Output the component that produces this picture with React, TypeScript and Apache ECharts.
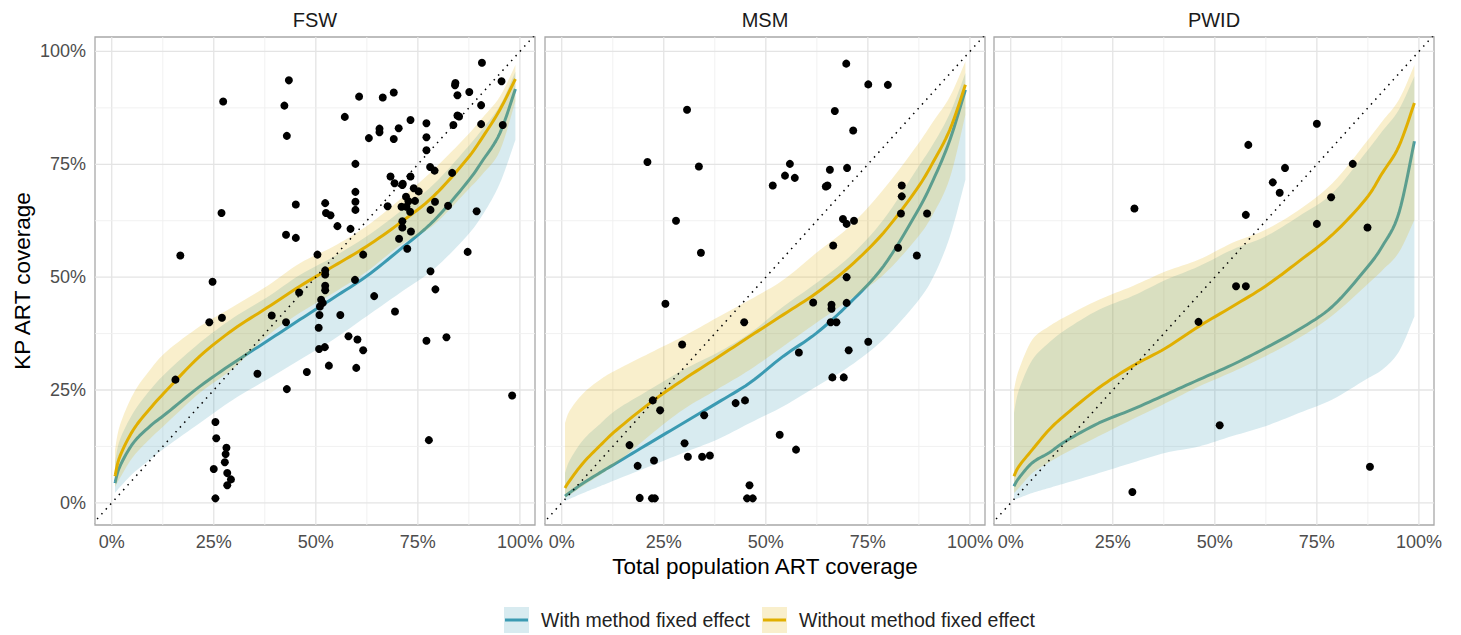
import React, { useEffect, useRef } from 'react';
import * as echarts from 'echarts';

// ---------- data ----------
const panelNames = ['FSW', 'MSM', 'PWID'];
const tickValues = [0, 25, 50, 75, 100];
const minorValues = [12.5, 37.5, 62.5, 87.5];
const curveX = [0.8, 2, 5.3, 9.4, 13.5, 21.6, 29.8, 38, 46.1, 54.3, 62.4, 70.6, 78.8, 86.9, 91, 95.1, 98.9];

const fswWithMid = [4.4, 8.1, 13.3, 17.0, 19.9, 25.8, 31.0, 35.8, 40.6, 45.4, 50.2, 56.1, 62.4, 70.8, 76.0, 81.9, 91.7];
const fswWithLo = [2.2, 3.5, 6.6, 9.6, 12.5, 17.7, 22.9, 27.3, 31.7, 36.2, 41.3, 46.5, 51.7, 59.0, 64.0, 70.8, 80.4];
const fswWithHi = [9.0, 14.0, 20.0, 25.0, 29.0, 35.5, 41.0, 45.5, 50.5, 54.5, 59.0, 64.5, 70.5, 78.5, 83.0, 88.0, 95.5];
const fswWithoutMid = [5.9, 10.3, 16.2, 20.9, 25.0, 32.5, 38.4, 43.2, 48.0, 52.4, 56.8, 62.0, 67.9, 76.0, 81.2, 87.1, 93.9];
const fswWithoutLo = [3.5, 5.5, 10.3, 14.2, 17.7, 24.4, 29.8, 36.9, 42.1, 46.5, 51.2, 57.0, 61.5, 69.0, 73.0, 78.0, 89.0];
const fswWithoutHi = [11.8, 17.2, 24.2, 29.5, 33.6, 39.1, 43.5, 48.0, 53.1, 56.8, 61.3, 67.2, 73.8, 81.2, 85.5, 90.0, 97.0];

const msmWithMid = [1.5, 2.3, 4.4, 6.7, 8.9, 13.3, 17.7, 22.1, 26.6, 32.5, 37.6, 44.3, 52.4, 64.2, 71.5, 80.4, 91.5];
const msmWithLo = [0.4, 0.9, 2.2, 3.7, 5.2, 8.1, 11.1, 14.0, 17.7, 21.4, 25.8, 30.3, 36.2, 44.3, 50.0, 59.0, 71.6];
const msmWithHi = [6.6, 9.5, 14.0, 17.5, 20.7, 25.1, 29.5, 33.2, 37.6, 43.5, 48.7, 54.6, 62.7, 73.8, 79.5, 86.3, 95.2];
const msmWithoutMid = [3.3, 5.0, 8.9, 12.7, 16.2, 22.1, 27.3, 32.1, 36.9, 41.7, 46.5, 52.4, 59.8, 69.4, 75.5, 82.7, 92.6];
const msmWithoutLo = [1.1, 1.8, 3.8, 6.2, 8.8, 15.0, 20.7, 25.1, 29.5, 34.7, 39.9, 45.0, 50.5, 58.5, 64.0, 72.0, 86.0];
const msmWithoutHi = [17.7, 20.5, 24.3, 27.3, 29.5, 33.2, 36.9, 41.0, 45.0, 49.4, 55.4, 61.3, 69.4, 79.0, 84.5, 90.0, 97.8];

const pwidWithMid = [3.7, 5.5, 8.9, 11.1, 13.7, 17.7, 20.7, 24.0, 27.3, 30.6, 34.3, 38.4, 43.5, 51.7, 56.8, 64.2, 80.1];
const pwidWithLo = [0.7, 1.1, 2.2, 3.3, 4.4, 6.6, 8.9, 11.1, 12.5, 14.8, 17.0, 19.9, 22.9, 27.3, 29.5, 33.5, 41.3];
const pwidWithHi = [19.9, 25.0, 31.7, 35.5, 38.4, 42.8, 45.8, 49.4, 52.4, 56.1, 59.0, 63.5, 68.6, 77.5, 82.3, 87.1, 94.5];
const pwidWithoutMid = [5.9, 8.1, 11.8, 16.2, 19.6, 25.5, 30.3, 34.3, 39.1, 43.5, 48.0, 53.5, 59.4, 67.2, 73.0, 79.0, 88.6];
const pwidWithoutLo = [2.2, 3.3, 6.6, 9.0, 11.1, 14.8, 18.5, 22.1, 25.8, 29.0, 32.5, 36.5, 41.5, 48.0, 51.5, 55.5, 62.7];
const pwidWithoutHi = [25.1, 29.5, 36.2, 39.1, 41.3, 45.0, 48.0, 51.3, 53.9, 57.6, 60.5, 64.9, 70.8, 79.7, 84.5, 89.3, 97.0];

const fswPoints = [
  [90.7, 97.5], [43.4, 93.6], [84.2, 93.0], [84.1, 92.5], [95.5, 93.4], [27.3, 88.9], [42.3, 88.0], [60.6, 90.0],
  [66.4, 89.8], [69.1, 90.9], [84.7, 90.3], [87.6, 91.0], [90.5, 88.1], [57.1, 85.5], [42.9, 81.3], [84.7, 85.8],
  [85.1, 85.6], [83.7, 83.7], [90.5, 83.9], [95.8, 83.7], [73.2, 84.8], [77.1, 84.1], [65.6, 82.9], [65.6, 82.1],
  [70.3, 83.0], [63.0, 80.8], [69.1, 80.6], [77.1, 81.0], [77.1, 78.1], [59.7, 75.1], [78.0, 74.4], [79.1, 73.6],
  [83.4, 73.1], [68.3, 72.3], [69.3, 70.8], [71.3, 70.7], [73.2, 72.3], [71.2, 70.4], [74.0, 69.7], [75.2, 69.0],
  [59.7, 68.9], [59.7, 66.7], [59.7, 64.9], [45.1, 66.1], [52.3, 66.4], [52.5, 64.2], [53.6, 63.7], [67.6, 65.7],
  [72.1, 67.8], [72.7, 66.8], [74.3, 66.9], [71.0, 65.6], [72.2, 65.6], [73.1, 64.5], [79.2, 66.7], [78.1, 64.9],
  [82.4, 65.8], [89.4, 64.6], [26.9, 64.2], [71.2, 62.4], [71.2, 61.0], [73.3, 60.1], [55.3, 61.3], [58.5, 60.7],
  [42.7, 59.4], [45.1, 58.7], [70.4, 58.5], [72.4, 56.3], [87.2, 55.6], [16.8, 54.8], [50.4, 55.0], [61.6, 55.0],
  [78.1, 51.3], [52.3, 51.5], [52.3, 50.6], [52.3, 48.1], [52.3, 47.1], [59.6, 49.4], [24.7, 49.0], [79.3, 47.3],
  [64.3, 45.8], [45.9, 46.6], [51.3, 45.0], [51.7, 44.3], [51.0, 43.5], [50.9, 41.6], [56.0, 41.6], [69.4, 42.4],
  [39.2, 41.5], [42.7, 40.0], [23.9, 40.0], [27.0, 41.0], [50.7, 38.8], [58.0, 36.9], [60.2, 36.2], [61.6, 33.8],
  [77.1, 35.9], [82.0, 36.7], [50.8, 34.1], [52.2, 34.5], [53.2, 30.4], [59.9, 29.9], [47.8, 29.0], [35.7, 28.6],
  [15.6, 27.3], [42.9, 25.2], [98.1, 23.8], [25.4, 17.9], [25.6, 14.3], [77.7, 13.9], [28.1, 12.2], [27.9, 10.8],
  [27.7, 9.0], [25.0, 7.5], [28.3, 6.6], [29.2, 5.2], [28.3, 3.9], [25.4, 1.0],
];

const msmPoints = [
  [69.7, 97.3], [75.1, 92.7], [79.9, 92.6], [30.7, 87.1], [66.9, 86.8], [71.4, 82.5], [21.0, 75.5], [33.6, 74.5],
  [55.9, 75.1], [54.7, 72.5], [57.1, 72.0], [51.7, 70.3], [65.7, 73.8], [69.9, 74.2], [64.7, 70.1], [65.1, 70.3],
  [83.3, 70.3], [83.3, 67.9], [28.0, 62.5], [68.9, 62.9], [69.8, 61.8], [71.6, 62.5], [83.1, 64.1], [89.5, 64.1],
  [34.1, 55.4], [66.5, 57.0], [82.4, 56.5], [87.0, 54.8], [69.8, 50.0], [25.4, 44.1], [61.6, 44.4], [66.1, 43.9],
  [66.1, 43.0], [69.8, 44.3], [44.7, 40.0], [65.9, 40.0], [67.3, 40.0], [29.5, 35.1], [75.1, 35.7], [58.1, 33.3],
  [70.3, 33.8], [66.3, 27.8], [69.1, 27.8], [22.3, 22.7], [24.1, 20.5], [34.9, 19.4], [42.6, 22.1], [44.9, 22.7],
  [53.4, 15.1], [57.4, 11.8], [16.6, 12.8], [30.1, 13.2], [18.6, 8.2], [22.6, 9.4], [30.9, 10.2], [34.4, 10.2],
  [36.3, 10.5], [19.1, 1.1], [22.1, 1.0], [22.8, 1.0], [46.0, 3.9], [45.4, 1.0], [46.8, 1.0],
];

const pwidPoints = [
  [75.0, 84.0], [58.2, 79.3], [67.2, 74.2], [83.8, 75.1], [64.2, 71.0], [65.9, 68.7], [78.5, 67.7], [30.3, 65.2],
  [57.6, 63.8], [75.0, 61.8], [87.4, 61.0], [55.2, 48.0], [57.6, 48.0], [46.0, 40.1], [51.2, 17.2], [88.0, 8.0],
  [29.8, 2.4],
];

const legendLabels = ['With method fixed effect', 'Without method fixed effect'];

// ---------- layout / style ----------
const X_MIN = -4.1;
const X_MAX = 103.7;
const Y_MIN = -4.9;
const Y_MAX = 103.2;
const GRID_LEFTS = [95, 545, 994];
const GRID_TOP = 37;
const GRID_W = 440;
const GRID_H = 488;
const FONT = 'Liberation Sans, Arial, sans-serif';
const BLUE = '#3B9AB2';
const YELLOW = '#E1AF00';
const BLUE_FILL = 'rgba(59,154,178,0.2)';
const YELLOW_FILL = 'rgba(225,175,0,0.2)';

const panelData = [
  { points: fswPoints, wMid: fswWithMid, wLo: fswWithLo, wHi: fswWithHi, oMid: fswWithoutMid, oLo: fswWithoutLo, oHi: fswWithoutHi },
  { points: msmPoints, wMid: msmWithMid, wLo: msmWithLo, wHi: msmWithHi, oMid: msmWithoutMid, oLo: msmWithoutLo, oHi: msmWithoutHi },
  { points: pwidPoints, wMid: pwidWithMid, wLo: pwidWithLo, wHi: pwidWithHi, oMid: pwidWithoutMid, oLo: pwidWithoutLo, oHi: pwidWithoutHi },
];

const gridLineData = [
  ...tickValues.map((v) => [v, 0, 1]),
  ...minorValues.map((v) => [v, 0, 0]),
  ...tickValues.map((v) => [v, 1, 1]),
  ...minorValues.map((v) => [v, 1, 0]),
];

// Catmull-Rom smoothing of pixel points (drawing only)
function smoothPixels(pts: number[][], steps = 8): number[][] {
  const out: number[][] = [];
  const n = pts.length;
  for (let i = 0; i < n - 1; i++) {
    const p0 = pts[Math.max(0, i - 1)];
    const p1 = pts[i];
    const p2 = pts[i + 1];
    const p3 = pts[Math.min(n - 1, i + 2)];
    for (let s = 0; s < steps; s++) {
      const t = s / steps;
      const t2 = t * t;
      const t3 = t2 * t;
      const f = (a: number, b: number, c: number, d: number) =>
        0.5 * (2 * b + (-a + c) * t + (2 * a - 5 * b + 4 * c - d) * t2 + (-a + 3 * b - 3 * c + d) * t3);
      out.push([f(p0[0], p1[0], p2[0], p3[0]), f(p0[1], p1[1], p2[1], p3[1])]);
    }
  }
  out.push(pts[n - 1]);
  return out;
}

function gridSeries(gi: number) {
  return {
    type: 'custom',
    xAxisIndex: gi,
    yAxisIndex: gi,
    z: 1,
    silent: true,
    data: gridLineData,
    renderItem: (params: any, api: any) => {
      const v = api.value(0);
      const o = api.value(1);
      const major = api.value(2);
      const p1 = o === 0 ? api.coord([v, Y_MIN]) : api.coord([X_MIN, v]);
      const p2 = o === 0 ? api.coord([v, Y_MAX]) : api.coord([X_MAX, v]);
      return {
        type: 'line',
        shape: { x1: p1[0], y1: p1[1], x2: p2[0], y2: p2[1] },
        style: { stroke: major ? '#e4e4e4' : '#efefef', lineWidth: major ? 1.3 : 0.9 },
      };
    },
  };
}

function ribbonSeries(gi: number, lo: number[], hi: number[], fill: string, z: number) {
  return {
    type: 'custom',
    xAxisIndex: gi,
    yAxisIndex: gi,
    z,
    silent: true,
    data: [[curveX[0], lo[0]]],
    renderItem: (params: any, api: any) => {
      const upper = smoothPixels(curveX.map((x, i) => api.coord([x, hi[i]])));
      const lower = smoothPixels(curveX.map((x, i) => api.coord([x, lo[i]])));
      const pts = upper.concat(lower.reverse());
      return {
        type: 'polygon',
        shape: { points: pts },
        style: { fill },
      };
    },
  };
}

function lineSeries(gi: number, ys: number[], color: string, z: number) {
  return {
    type: 'custom',
    xAxisIndex: gi,
    yAxisIndex: gi,
    z,
    silent: true,
    data: [[curveX[0], ys[0]]],
    renderItem: (params: any, api: any) => {
      const pts = smoothPixels(curveX.map((x, i) => api.coord([x, ys[i]])));
      return {
        type: 'polyline',
        shape: { points: pts },
        style: { stroke: color, lineWidth: 3, fill: 'none', lineJoin: 'round' },
      };
    },
  };
}

function buildOption() {
  const series: any[] = [];
  panelData.forEach((p, gi) => {
    series.push(gridSeries(gi));
    series.push(ribbonSeries(gi, p.wLo, p.wHi, BLUE_FILL, 2));
    series.push(lineSeries(gi, p.wMid, BLUE, 3));
    series.push(ribbonSeries(gi, p.oLo, p.oHi, YELLOW_FILL, 4));
    series.push(lineSeries(gi, p.oMid, YELLOW, 5));
    series.push({
      type: 'line',
      xAxisIndex: gi,
      yAxisIndex: gi,
      z: 6,
      silent: true,
      showSymbol: false,
      data: [[-10, -10], [110, 110]],
      lineStyle: { color: '#000', width: 1.5, type: [1.5, 5] },
      emphasis: { disabled: true },
    });
    series.push({
      type: 'scatter',
      xAxisIndex: gi,
      yAxisIndex: gi,
      z: 7,
      silent: true,
      symbolSize: 8,
      data: p.points,
      itemStyle: { color: '#000', opacity: 1 },
      emphasis: { disabled: true },
    });
  });

  const centers = GRID_LEFTS.map((l) => l + GRID_W / 2);

  const graphic: any[] = [
    ...panelNames.map((name, i) => ({
      type: 'text',
      x: centers[i],
      y: 20,
      silent: true,
      style: { text: name, fontSize: 20, fontFamily: FONT, fill: '#1a1a1a', align: 'center', verticalAlign: 'middle' },
    })),
    {
      type: 'text',
      x: centers[1],
      y: 566,
      silent: true,
      style: { text: 'Total population ART coverage', fontSize: 22.5, fontFamily: FONT, fill: '#000', align: 'center', verticalAlign: 'middle' },
    },
    {
      type: 'text',
      x: 22,
      y: GRID_TOP + GRID_H / 2,
      rotation: Math.PI / 2,
      silent: true,
      style: { text: 'KP ART coverage', fontSize: 22.5, fontFamily: FONT, fill: '#000', align: 'center', verticalAlign: 'middle' },
    },
    // legend
    { type: 'rect', silent: true, shape: { x: 504, y: 607, width: 25, height: 26 }, style: { fill: BLUE_FILL } },
    { type: 'line', silent: true, shape: { x1: 505, y1: 620, x2: 528, y2: 620 }, style: { stroke: BLUE, lineWidth: 3 } },
    {
      type: 'text', x: 541, y: 620, silent: true,
      style: { text: legendLabels[0], fontSize: 19.5, fontFamily: FONT, fill: '#222', align: 'left', verticalAlign: 'middle' },
    },
    { type: 'rect', silent: true, shape: { x: 762, y: 607, width: 25, height: 26 }, style: { fill: YELLOW_FILL } },
    { type: 'line', silent: true, shape: { x1: 763, y1: 620, x2: 786, y2: 620 }, style: { stroke: YELLOW, lineWidth: 3 } },
    {
      type: 'text', x: 799, y: 620, silent: true,
      style: { text: legendLabels[1], fontSize: 19.5, fontFamily: FONT, fill: '#222', align: 'left', verticalAlign: 'middle' },
    },
  ];

  return {
    animation: false,
    backgroundColor: '#ffffff',
    grid: GRID_LEFTS.map((left) => ({
      left,
      top: GRID_TOP,
      width: GRID_W,
      height: GRID_H,
      show: true,
      borderColor: '#a8a8a8',
      borderWidth: 1.3,
      backgroundColor: 'transparent',
    })),
    xAxis: GRID_LEFTS.map((_, gi) => ({
      type: 'value',
      gridIndex: gi,
      min: X_MIN,
      max: X_MAX,
      splitLine: { show: false },
      axisLine: { show: false },
      axisTick: { show: false },
      axisLabel: {
        customValues: tickValues,
        formatter: (v: number) => `${v}%`,
        color: '#4d4d4d',
        fontSize: 18,
        fontFamily: FONT,
        margin: 8,
      },
    })),
    yAxis: GRID_LEFTS.map((_, gi) => ({
      type: 'value',
      gridIndex: gi,
      min: Y_MIN,
      max: Y_MAX,
      splitLine: { show: false },
      axisLine: { show: false },
      axisTick: { show: false },
      axisLabel: {
        show: gi === 0,
        customValues: tickValues,
        formatter: (v: number) => `${v}%`,
        color: '#4d4d4d',
        fontSize: 18,
        fontFamily: FONT,
        margin: 9,
      },
    })),
    series,
    graphic,
  };
}

export default function App() {
  const ref = useRef<HTMLDivElement>(null);
  useEffect(() => {
    if (!ref.current) return;
    const chart = echarts.init(ref.current, null, { renderer: 'svg' });
    chart.setOption(buildOption() as any);
    return () => chart.dispose();
  }, []);
  return (
    <div
      ref={ref}
      style={{ position: 'fixed', left: 0, top: 0, width: 1461, height: 635, background: '#ffffff' }}
    />
  );
}
